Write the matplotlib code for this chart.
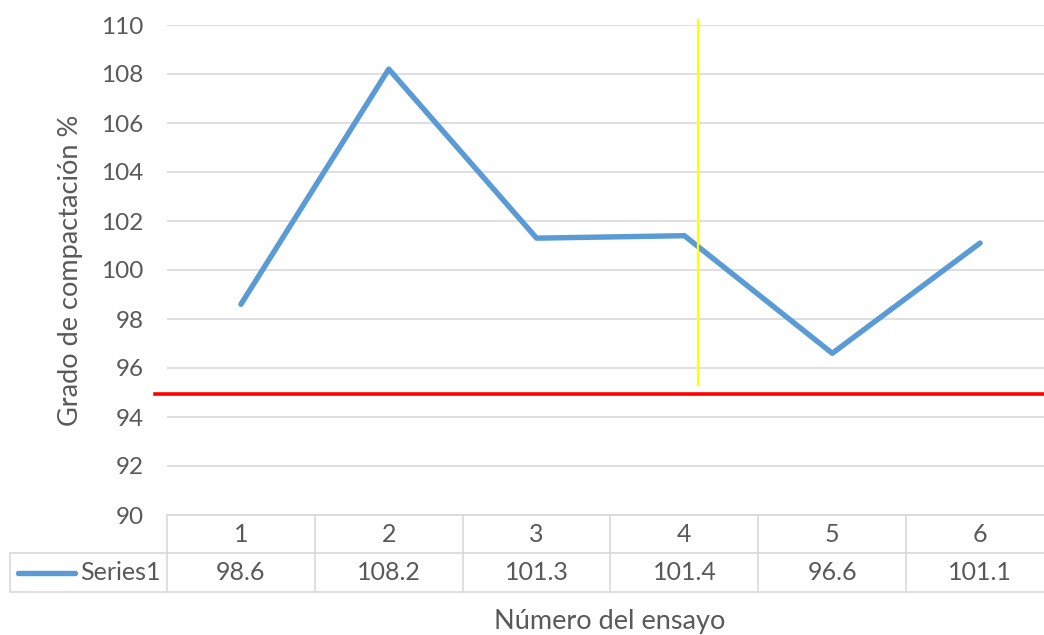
import matplotlib
matplotlib.use("Agg")
import matplotlib.pyplot as plt

# Datos del grafico
ensayos = [1, 2, 3, 4, 5, 6]
grado = [98.6, 108.2, 101.3, 101.4, 96.6, 101.1]
etiquetas_tabla = ["98.6", "108.2", "101.3", "101.4", "96.6", "101.1"]
limite_minimo = 95.0
nombre_serie = "Series1"

azul = "#5B9BD5"
gris_texto = "#595959"
gris_rejilla = "#D9D9D9"

plt.rcParams["font.family"] = ["Lato", "DejaVu Sans"]

fig = plt.figure(figsize=(10.44, 6.35), dpi=100)
W, H = 1044, 635
ax = fig.add_axes([167 / W, 1 - 515 / H, (1054 - 167) / W, (515 - 25) / H])

# Serie principal
ax.plot(ensayos, grado, color=azul, linewidth=3.9, solid_capstyle="round", zorder=3)

# Limite minimo (linea roja) y marca vertical amarilla
ax.plot([0.42, 7.0], [limite_minimo - 0.05] * 2, color="#FF0000", linewidth=2.6,
        clip_on=False, zorder=4)
ax.plot([4.09, 4.09], [110.2, 95.3], color="#FFFF00", linewidth=1.6,
        clip_on=False, zorder=4)

ax.set_xlim(0.5, 6.5)
ax.set_ylim(90, 110)
ax.set_yticks(range(90, 111, 2))
ax.set_xticks([])
ax.grid(axis="y", color=gris_rejilla, linewidth=1.2)
ax.set_axisbelow(True)
for s in ax.spines.values():
    s.set_visible(False)
ax.tick_params(axis="y", length=0, pad=17, labelsize=17.5, labelcolor=gris_texto)
ax.set_ylabel("Grado de compactación %", color=gris_texto, fontsize=19.5, labelpad=13)

# Tabla de datos bajo el eje
tr = ax.get_xaxis_transform()
y0, y1, y2 = 0.0, -38 / 490, -77 / 490
x_izq = 0.5 - 157 / 148
bordes = [0.5 + i for i in range(7)]
linea = dict(color=gris_rejilla, linewidth=1.2, transform=tr, clip_on=False)
ax.plot([0.5, 7.0], [y0, y0], **linea)
ax.plot([x_izq, 7.0], [y1, y1], **linea)
ax.plot([x_izq, 7.0], [y2, y2], **linea)
ax.plot([x_izq, x_izq], [y1, y2], **linea)
for b in bordes:
    ax.plot([b, b], [y0, y2], **linea)

for x, txt in zip(ensayos, etiquetas_tabla):
    ax.text(x, (y0 + y1) / 2, str(x), transform=tr, ha="center", va="center",
            fontsize=18, color=gris_texto)
    ax.text(x, (y1 + y2) / 2, txt, transform=tr, ha="center", va="center",
            fontsize=18, color=gris_texto)

# Leyenda dentro de la tabla
ax.plot([x_izq + 0.05, x_izq + 0.44], [(y1 + y2) / 2] * 2, color=azul, linewidth=3.9,
        solid_capstyle="round", transform=tr, clip_on=False)
ax.text(0.46, (y1 + y2) / 2, nombre_serie, transform=tr, ha="right", va="center",
        fontsize=18, color=gris_texto)

fig.text(610 / W, 1 - 622 / H, "Número del ensayo", ha="center", va="center",
         fontsize=19.5, color=gris_texto)

fig.savefig("out.png", dpi=100, facecolor="white")
